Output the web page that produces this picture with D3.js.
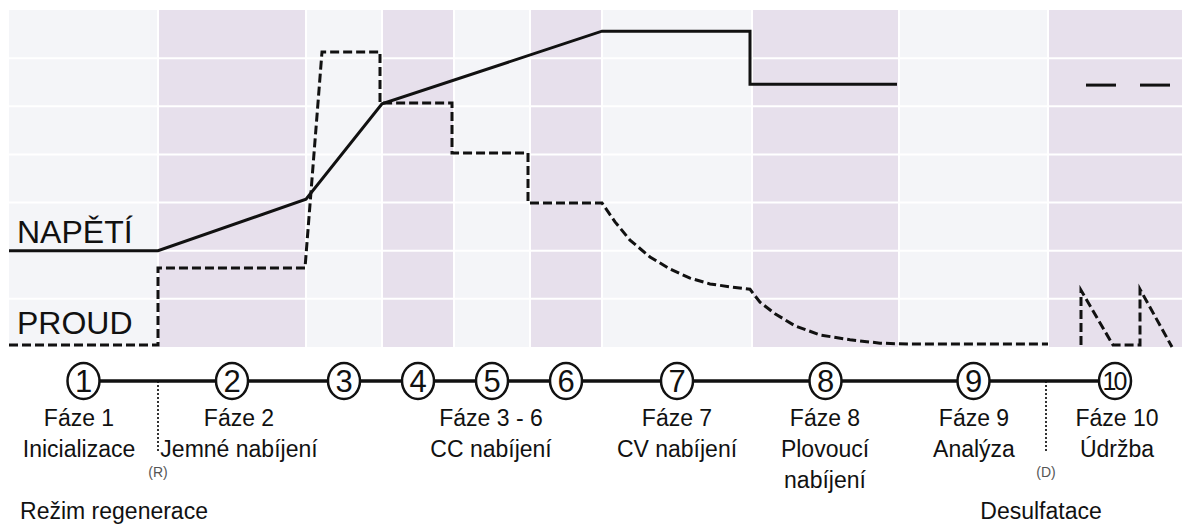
<!DOCTYPE html>
<head>
  <meta charset="utf-8">
  <script src="https://d3js.org/d3.v7.min.js"></script>
  <style>
    body { margin: 0; background: #fff; font-family: "Liberation Sans", Arial, sans-serif; }
    .grid { stroke: #fff; stroke-width: 2px; }
    .volt { fill: none; stroke: #111; stroke-width: 3px; }
    .amp { fill: none; stroke: #111; stroke-width: 3px; stroke-dasharray: 9, 4; }
    .lbl { font-size: 23px; fill: #111; text-anchor: middle; }
    .big { font-size: 32px; fill: #111; }
    .mark { font-size: 14px; fill: #555; text-anchor: middle; }
  </style>
</head>
<body>
  <script>
    // phase boundaries in time units (10 px each)
    var phaseEdges = [0, 14.9, 29.7, 37.3, 44.5, 52.1, 59.3, 74.3, 89.0, 103.9, 117.3];
    var phaseNums = ["1", "2", "3", "4", "5", "6", "7", "8", "9", "10"];

    // voltage (solid), y in grid rows
    var voltage = [[0, 2.0], [14.9, 2.0], [29.7, 3.07], [37.3, 5.05], [59.3, 6.56], [74.1, 6.56],
                   [74.1, 5.46], [88.8, 5.46]];
    var voltageDashes = [[[107.7, 5.44], [110.7, 5.44]], [[113.1, 5.44], [116.1, 5.44]]];

    // current (dashed)
    var current = [[0, 0.04], [14.9, 0.04], [14.9, 1.64], [29.6, 1.64], [31.3, 6.13], [37.1, 6.13],
                   [37.1, 5.07], [44.3, 5.07], [44.3, 4.03], [51.9, 4.03], [51.9, 2.99], [59.3, 2.99],
                   [60.6, 2.6], [62.1, 2.22], [64.1, 1.87], [66.1, 1.62], [68.1, 1.43], [70.1, 1.31],
                   [72.1, 1.25], [74.1, 1.2], [75.1, 0.93], [76.6, 0.69], [78.6, 0.44], [81.1, 0.25],
                   [84.1, 0.15], [87.1, 0.08], [90.1, 0.06], [103.9, 0.06]];
    var pulses = [[107.2, 0.04], [107.2, 1.18], [110.4, 0.04], [113.1, 0.04], [113.1, 1.2], [116.3, 0.0]];

    var labels = [
      {t: 7.0, lines: ["Fáze 1", "Inicializace"]},
      {t: 23.0, lines: ["Fáze 2", "Jemné nabíjení"]},
      {t: 48.2, lines: ["Fáze 3 - 6", "CC nabíjení"]},
      {t: 66.8, lines: ["Fáze 7", "CV nabíjení"]},
      {t: 81.6, lines: ["Fáze 8", "Plovoucí", "nabíjení"]},
      {t: 96.5, lines: ["Fáze 9", "Analýza"]},
      {t: 110.8, lines: ["Fáze 10", "Údržba"]}
    ];
    var markers = [
      {t: 14.9, tag: "(R)", name: "Režim regenerace", nameT: 10.5},
      {t: 103.7, tag: "(D)", name: "Desulfatace", nameT: 103.2}
    ];

    var W = 1182, H = 526;
    var svg = d3.select("body").append("svg").attr("width", W).attr("height", H);

    var x = d3.scaleLinear().domain([0, 117.3]).range([9, 1182]);
    var y = d3.scaleLinear().domain([0, 7]).range([347, 10]);

    // phase columns
    svg.append("g").selectAll("rect")
      .data(d3.range(phaseNums.length))
      .enter().append("rect")
        .attr("x", function(i) { return x(phaseEdges[i]); })
        .attr("y", y(7))
        .attr("width", function(i) { return x(phaseEdges[i + 1]) - x(phaseEdges[i]); })
        .attr("height", y(0) - y(7))
        .attr("fill", function(i) { return i % 2 ? "#e7e0ec" : "#f4f5f8"; });

    svg.append("g").selectAll("line")
      .data(d3.range(1, 7))
      .enter().append("line")
        .attr("class", "grid")
        .attr("x1", x(0)).attr("x2", x(117.3))
        .attr("y1", function(d) { return y(d); }).attr("y2", function(d) { return y(d); });

    svg.append("g").selectAll("line")
      .data(phaseEdges.slice(1, -1))
      .enter().append("line")
        .attr("class", "grid")
        .attr("x1", function(d) { return x(d); }).attr("x2", function(d) { return x(d); })
        .attr("y1", y(7)).attr("y2", y(0));

    var line = d3.line()
      .x(function(d) { return x(d[0]); })
      .y(function(d) { return y(d[1]); });

    svg.append("path").attr("class", "volt").attr("d", line(voltage));
    voltageDashes.forEach(function(seg) {
      svg.append("path").attr("class", "volt").attr("d", line(seg));
    });
    svg.append("path").attr("class", "amp").attr("d", line(current));
    svg.append("path").attr("class", "amp").attr("d", line(pulses));

    svg.append("text").attr("class", "big").attr("x", 17).attr("y", 243).text("NAPĚTÍ");
    svg.append("text").attr("class", "big").attr("x", 17).attr("y", 334).text("PROUD");

    // timeline
    var ty = 381;
    var centers = phaseNums.map(function(d, i) { return (phaseEdges[i] + phaseEdges[i + 1]) / 2; });

    markers.forEach(function(m) {
      svg.append("line")
        .attr("x1", x(m.t)).attr("x2", x(m.t))
        .attr("y1", ty).attr("y2", 452)
        .attr("stroke", "#333").attr("stroke-width", 2).attr("stroke-dasharray", "2,2");
      svg.append("text").attr("class", "mark").attr("x", x(m.t)).attr("y", 477).text(m.tag);
      svg.append("text").attr("class", "lbl").attr("x", x(m.nameT)).attr("y", 519).text(m.name);
    });

    svg.append("line")
      .attr("x1", x(centers[0])).attr("x2", x(centers[centers.length - 1]))
      .attr("y1", ty).attr("y2", ty)
      .attr("stroke", "#111").attr("stroke-width", 3.5);

    var node = svg.append("g").selectAll("g")
      .data(phaseNums)
      .enter().append("g")
        .attr("transform", function(d, i) { return "translate(" + x(centers[i]) + "," + ty + ")"; });

    node.append("ellipse")
      .attr("rx", 16).attr("ry", 18)
      .attr("fill", "#fff").attr("stroke", "#111").attr("stroke-width", 2.5);

    node.append("text")
      .attr("text-anchor", "middle")
      .attr("y", function(d) { return d.length > 1 ? 9 : 11; })
      .attr("font-size", function(d) { return d.length > 1 ? 25 : 31; })
      .attr("letter-spacing", function(d) { return d.length > 1 ? -3 : 0; })
      .attr("dx", function(d) { return d.length > 1 ? -1.5 : 0; })
      .attr("fill", "#111")
      .text(function(d) { return d; });

    var lbl = svg.append("g").selectAll("text")
      .data(labels)
      .enter().append("text")
        .attr("class", "lbl")
        .attr("x", function(d) { return x(d.t); });

    lbl.selectAll("tspan")
      .data(function(d) { return d.lines; })
      .enter().append("tspan")
        .attr("x", function() { return d3.select(this.parentNode).attr("x"); })
        .attr("y", function(d, i) { return 426 + i * 31; })
        .text(function(d) { return d; });
  </script>
</body>
